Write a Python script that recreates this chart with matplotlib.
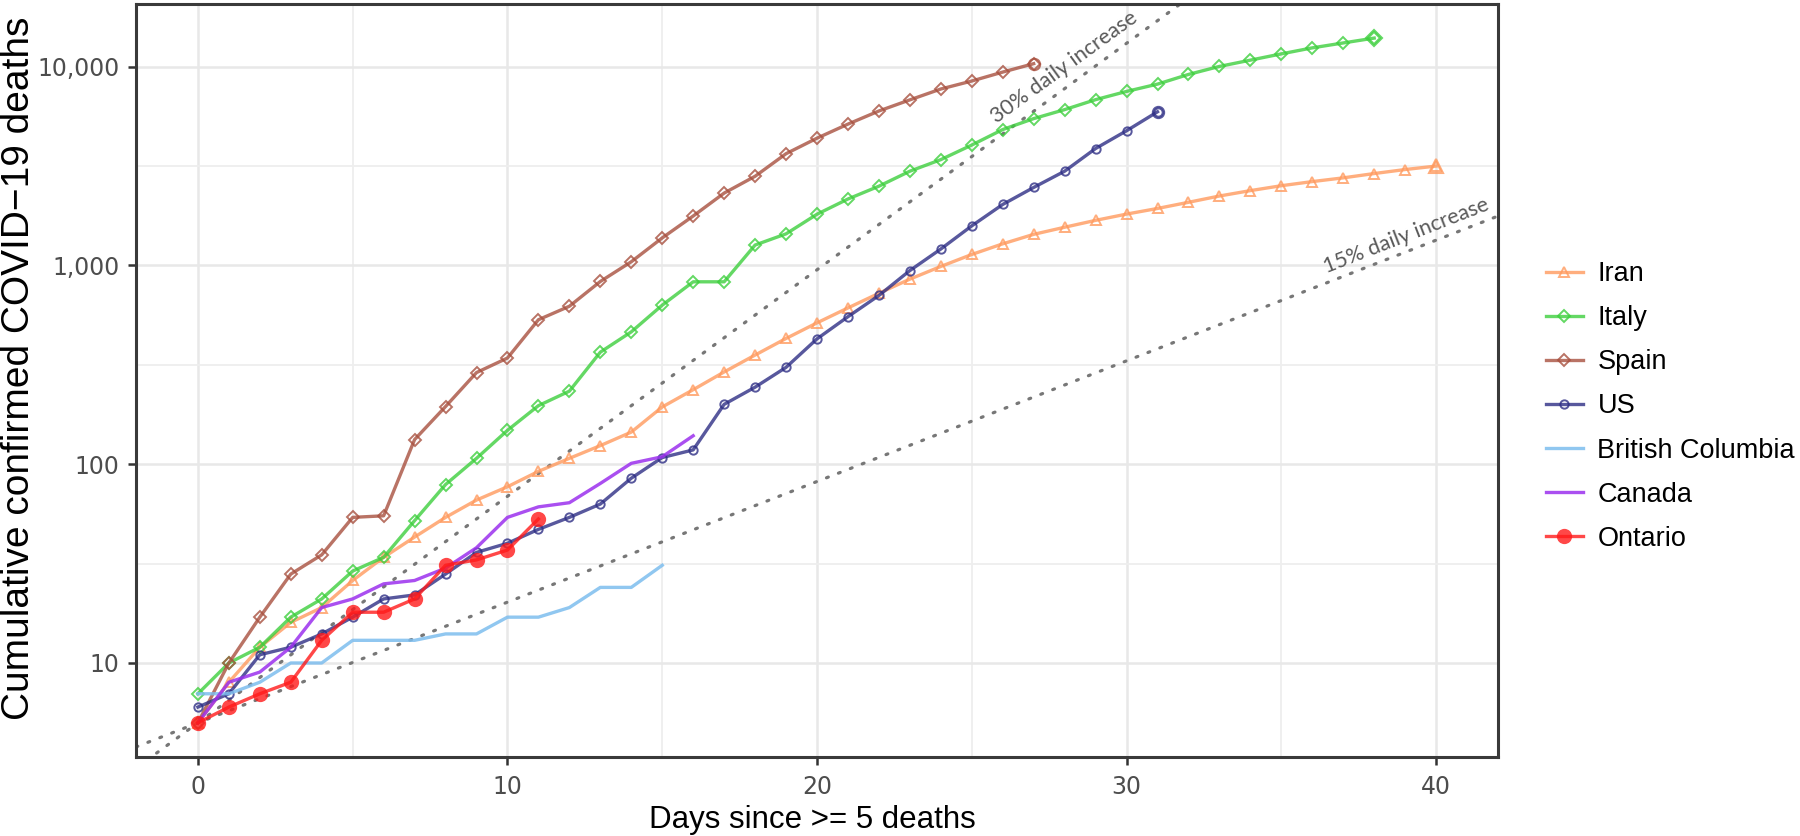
import numpy as np
import matplotlib.pyplot as plt
from matplotlib.ticker import FixedLocator, FixedFormatter

# cumulative deaths, day 0 = first day with >= 5 deaths
iran = [5, 8, 12, 16, 19, 26, 34, 43, 54, 66, 77, 92, 107, 124, 145, 194, 237, 291, 354, 429,
        514, 611, 724, 853, 988, 1135, 1284, 1433, 1556, 1685, 1812, 1934, 2077, 2234, 2378,
        2517, 2640, 2757, 2898, 3036, 3160]
italy = [7, 10, 12, 17, 21, 29, 34, 52, 79, 107, 148, 197, 233, 366, 463, 631, 827, 827, 1266,
         1441, 1809, 2158, 2503, 2978, 3405, 4032, 4825, 5476, 6077, 6820, 7503, 8165, 9134,
         10023, 10779, 11591, 12428, 13155, 13915]
spain = [5, 10, 17, 28, 35, 54, 55, 133, 195, 289, 342, 533, 623, 830, 1043, 1375, 1772, 2311,
         2808, 3647, 4365, 5138, 5982, 6803, 7716, 8464, 9387, 10348]
us = [6, 7, 11, 12, 14, 17, 21, 22, 28, 36, 40, 47, 54, 63, 85, 108, 118, 200, 244, 307, 427,
      552, 706, 942, 1209, 1581, 2026, 2467, 2978, 3873, 4757, 5926]
bc = [7, 7, 8, 10, 10, 13, 13, 13, 14, 14, 17, 17, 19, 24, 24, 31]
canada = [5, 8, 9, 12, 19, 21, 25, 26, 30, 38, 54, 61, 64, 80, 101, 109, 139]
ontario = [5, 6, 7, 8, 13, 18, 18, 21, 31, 33, 37, 53]

# reference growth lines
start_deaths = 5
rate_fast = 0.30
rate_slow = 0.15

y_ticks = [10, 100, 1000, 10000]
y_tick_labels = ["10", "100", "1,000", "10,000"]
x_ticks = [0, 10, 20, 30, 40]

W, H = 1800, 836
fig = plt.figure(figsize=(W / 100, H / 100), dpi=100)
ax = fig.add_axes([136 / W, 1 - 757 / H, (1498 - 136) / W, (757 - 4) / H])

plt.rcParams['font.family'] = ['Liberation Sans', 'DejaVu Sans']

# grid
ax.set_yscale('log')
ax.set_xlim(-2, 42)
ax.set_ylim(10 ** 0.527, 10 ** 4.315)
ax.yaxis.set_major_locator(FixedLocator(y_ticks))
ax.yaxis.set_major_formatter(FixedFormatter(y_tick_labels))
ax.yaxis.set_minor_locator(FixedLocator([10 ** 0.5, 10 ** 1.5, 10 ** 2.5, 10 ** 3.5]))
ax.xaxis.set_major_locator(FixedLocator(x_ticks))
ax.xaxis.set_minor_locator(FixedLocator([5, 15, 25, 35]))
ax.grid(which='major', color='#E8E8E8', lw=1.8)
ax.grid(which='minor', color='#EEEEEE', lw=1.3)
ax.set_axisbelow(True)

for s in ax.spines.values():
    s.set_color('#3A3A3A')
    s.set_linewidth(2.2)

ax.tick_params(which='major', length=6, width=1.8, color='#333333',
               labelsize=17, labelcolor='#4D4D4D')
ax.tick_params(axis='x', pad=7)
ax.tick_params(axis='y', pad=6)
ax.tick_params(which='minor', length=0)

# dotted guides
xg = np.array([-2, 42])
ax.plot(xg, start_deaths * (1 + rate_fast) ** xg, color='#777777', lw=2.3,
        linestyle=(0, (0.6, 3.4)), dash_capstyle='round')
ax.plot(xg, start_deaths * (1 + rate_slow) ** xg, color='#777777', lw=2.3,
        linestyle=(0, (0.6, 3.4)), dash_capstyle='round')

ax.text(28.0, 10 ** 3.998, "30% daily increase", rotation=36, ha='center', va='center',
        fontsize=15.5, color='#595959', family=['Lato', 'DejaVu Sans'], rotation_mode='anchor')
ax.text(39.03, 10 ** 3.149, "15% daily increase", rotation=21.3, ha='center', va='center',
        fontsize=15.5, color='#595959', family=['Lato', 'DejaVu Sans'], rotation_mode='anchor')


def series(vals, color, label, marker=None, end_marker=None, alpha=0.8, ms=6.5):
    d = np.arange(len(vals))
    if marker:
        line, = ax.plot(d, vals, color=color, lw=2.4, alpha=alpha, marker=marker, ms=ms,
                        mfc='none', mec=color, mew=1.4, label=label)
        ax.plot(d[-1:], vals[-1:], color=color, alpha=alpha, marker=end_marker or marker,
                ms=ms * 1.35, mfc='none', mec=color, mew=1.5, linestyle='none')
    else:
        line, = ax.plot(d, vals, color=color, lw=2.4, alpha=alpha, label=label)
    return line


series(iran, '#FF9A5E', 'Iran', marker='^', ms=7)
series(italy, '#3DCF3D', 'Italy', marker='D', ms=6)
series(spain, '#A8503F', 'Spain', marker='D', end_marker='o', ms=6)
series(us, '#2E2E85', 'US', marker='o', ms=6)
series(bc, '#7DBDEE', 'British Columbia', alpha=0.85)
series(canada, '#9B30EE', 'Canada', alpha=0.85)
d = np.arange(len(ontario))
ax.plot(d, ontario, color='#FF1A1A', lw=2.4, alpha=0.8, marker='o', ms=11,
        mec='none', label='Ontario')

# axis titles
fig.text(19 / W, 1 - 368 / H, "Cumulative confirmed COVID\u221219 deaths", rotation=90,
         ha='center', va='center', fontsize=28)
fig.text(812 / W, 1 - 820 / H, "Days since >= 5 deaths", ha='center', va='center', fontsize=22.5)

fig.legend(loc='upper left', bbox_to_anchor=(1546 / W, 1 - 261 / H), frameon=False,
           fontsize=19.5, handlelength=1.35, handletextpad=0.55, labelspacing=0.67,
           borderpad=0, borderaxespad=0)

fig.savefig('out.png', dpi=100)
